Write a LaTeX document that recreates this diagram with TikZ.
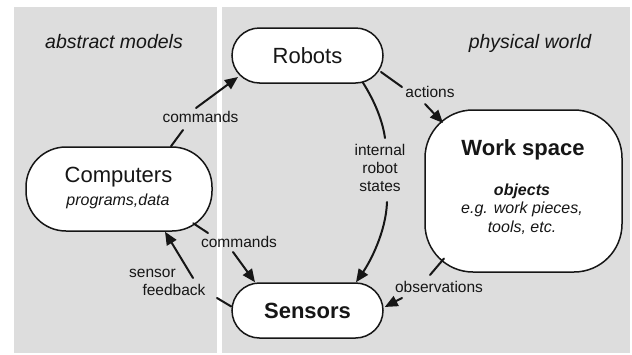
\documentclass[tikz,border=0pt]{standalone}
\usepackage{fontspec}
\setmainfont{Liberation Sans}
\usetikzlibrary{arrows.meta}
\definecolor{panelgray}{RGB}{221,221,221}
\definecolor{ink}{RGB}{22,22,22}
\newcommand\mytitle{\fontsize{22}{26}\selectfont}
\newcommand\mylab{\fontsize{15.5}{18.3}\selectfont}
\newcommand\mypanel{\fontsize{19.5}{23}\selectfont\itshape}
\newcommand\myinner{\fontsize{16}{18.5}\selectfont}
\begin{document}
\begin{tikzpicture}[x=1pt,y=-1pt,
  unitbox/.style={draw=ink,line width=1.5pt,fill=white,inner sep=0pt,rounded corners=#1},
  conn/.style={draw=ink,line width=2pt,line cap=round},
  arr/.style={conn,-{Triangle[length=13pt,width=11pt]}},
  lab/.style={text=ink,font=\mylab,inner sep=0pt}]
\useasboundingbox (0,0) rectangle (632,354);
\fill[panelgray] (14,7) rectangle (217,353);
\fill[panelgray] (222,7) rectangle (630,353);

\node[lab,font=\mypanel,anchor=base] (absm) at (114,48) {abstract models};
\node[lab,font=\mypanel,anchor=base] (phys) at (530,48) {physical world};

\node[unitbox=27.5pt,minimum width=151pt,minimum height=55pt,font=\mytitle,text=ink] (robots) at (307.5,55.5) {Robots};
\node[unitbox=27.5pt,minimum width=151pt,minimum height=55pt,font=\mytitle\bfseries,text=ink] (sensors) at (307.5,310.5) {Sensors};
\node[unitbox=40pt,minimum width=186pt,minimum height=84pt] (comp) at (119,189) {};
\node[lab,font=\mytitle,anchor=base] (comptitle) at (118.5,182.5) {Computers};
\node[lab,font=\myinner\itshape,anchor=base] (compsub) at (118,205) {programs,data};
\node[unitbox=48pt,minimum width=197pt,minimum height=162pt] (ws) at (523.5,191) {};
\node[lab,font=\mytitle\bfseries,anchor=base] (wstitle) at (523,155.5) {Work space};
\node[lab,font=\myinner\itshape,align=center] (wsbody) at (522,209) {{\bfseries objects}\\e.g. work pieces,\\tools, etc.};

\node[lab,anchor=base] (lcr) at (200.5,122.5) {commands};
\node[lab,anchor=base] (lact) at (430,97.5) {actions};
\node[lab,align=center] (lint) at (380,168) {internal\\robot\\states};
\node[lab,anchor=base] (lobs) at (439,292) {observations};
\node[lab,anchor=base] (lcs) at (239,247) {commands};
\node[lab,anchor=base] (lsen) at (152.5,277) {sensor};
\node[lab,anchor=base] (lfb) at (174,295) {feedback};

\coordinate (g1a) at (183,130); \coordinate (g1b) at (196,108);
\coordinate (g2a) at (402,87);  \coordinate (g2b) at (425,104);
\coordinate (g3a) at (385,138); \coordinate (g3b) at (387,202);
\coordinate (g4a) at (430,275); \coordinate (g4b) at (402,298);
\coordinate (g5a) at (208,233); \coordinate (g5b) at (233,252);
\coordinate (g6a) at (217,298); \coordinate (g6b) at (193,278);

% Computers -> Robots
\draw[conn] ([xshift=52pt]comp.north) -- (g1a);
\draw[arr] (g1b) -- ([xshift=-69.5pt,yshift=-21.5pt]robots.center);
% Robots -> Work space
\draw[conn] ([xshift=73.5pt,yshift=-16.5pt]robots.center) -- (g2a);
\draw[arr] (g2b) -- ([xshift=-80.5pt,yshift=68pt]ws.center);
% Robots -> Sensors
\draw[conn] ([xshift=55.5pt,yshift=1pt]robots.south) .. controls (372,97) and (382,117) .. (g3a);
\draw[arr] (g3b) .. controls (386,232) and (370,262) .. ([xshift=48.5pt]sensors.north);
% Work space -> Sensors
\draw[conn] ([xshift=-79.5pt,yshift=-67.5pt]ws.center) -- (g4a);
\draw[arr] (g4b) -- ([xshift=1pt,yshift=3.5pt]sensors.east);
% Computers -> Sensors
\draw[conn] ([xshift=74.3pt,yshift=-34.3pt]comp.center) -- (g5a);
\draw[arr] (g5b) -- ([xshift=-52.5pt]sensors.north);
% Sensors -> Computers
\draw[conn] ([yshift=4pt]sensors.west) -- (g6a);
\draw[arr] (g6b) -- ([xshift=46pt]comp.south);
\end{tikzpicture}
\end{document}
